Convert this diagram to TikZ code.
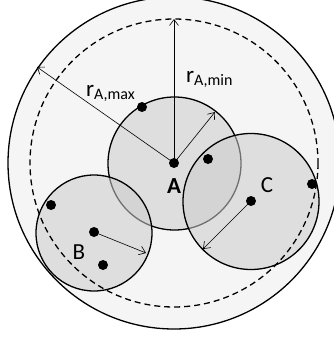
\documentclass[tikz,border=0pt]{standalone}
\usepackage{fontspec}
\setmainfont{Carlito}
\usetikzlibrary{arrows.meta}
\begin{document}
\begin{tikzpicture}[x=1pt,y=-1pt,
  bigline/.style={line width=1.3pt},
  subcirc/.style={bigline, fill=gray!40, fill opacity=0.55},
  dot/.style={circle, fill=black, inner sep=0pt, minimum size=10pt},
  radarrow/.style={line width=0.6pt, -{Straight Barb[length=6pt,width=9pt]}},
  lbl/.style={font=\fontsize{23}{25}\selectfont, inner sep=0pt}
]
\useasboundingbox (0,0) rectangle (334,338);
\begin{scope}
\clip (0,0) rectangle (334,338);
\fill[gray!8] (174,163) circle (166);
\draw[bigline] (174,163) circle (166);
\end{scope}
% circles
\draw[subcirc] (174.5,163.5) circle (66.5);
\draw[subcirc] (94,233) circle (58);
\draw[subcirc] (251,201.5) circle (68);
\draw[bigline, dashed, dash pattern=on 6pt off 4pt] (174,163) circle (144);
% centers
\node[dot] (A) at (174,163) {};
\node[dot] (Bc) at (94,232) {};
\node[dot] (Cc) at (251,201) {};
% other points
\node[dot] (a1) at (142,107) {};
\node[dot] (c1) at (208,159) {};
\node[dot] (c2) at (312,184) {};
\node[dot] (b1) at (51,205) {};
\node[dot] (b2) at (103,265) {};
% arrow endpoints
\coordinate (tmin) at (174,19);
\coordinate (tmax) at (37,67);
\coordinate (ta) at (215,112);
\coordinate (tb) at (146,253);
\coordinate (tc) at (203,249);
\draw[radarrow] (A.center) -- (tmin);
\draw[radarrow] (A.center) -- (tmax);
\draw[radarrow] (A.center) -- (ta);
\draw[radarrow] (Bc.center) -- (tb);
\draw[radarrow] (Cc.center) -- (tc);
% labels
\node[lbl, anchor=base west] (lmax) at (86,96) {r\textsubscript{\fontsize{16}{18}\selectfont A,max}};
\node[lbl, anchor=base west] (lmin) at (186,82) {r\textsubscript{\fontsize{16}{18}\selectfont A,min}};
\node[lbl, font=\fontsize{23}{25}\selectfont\bfseries] (LA) at (174,186) {A};
\node[lbl] (LB) at (79,252) {B};
\node[lbl] (LC) at (267,185) {C};
\end{tikzpicture}
\end{document}
